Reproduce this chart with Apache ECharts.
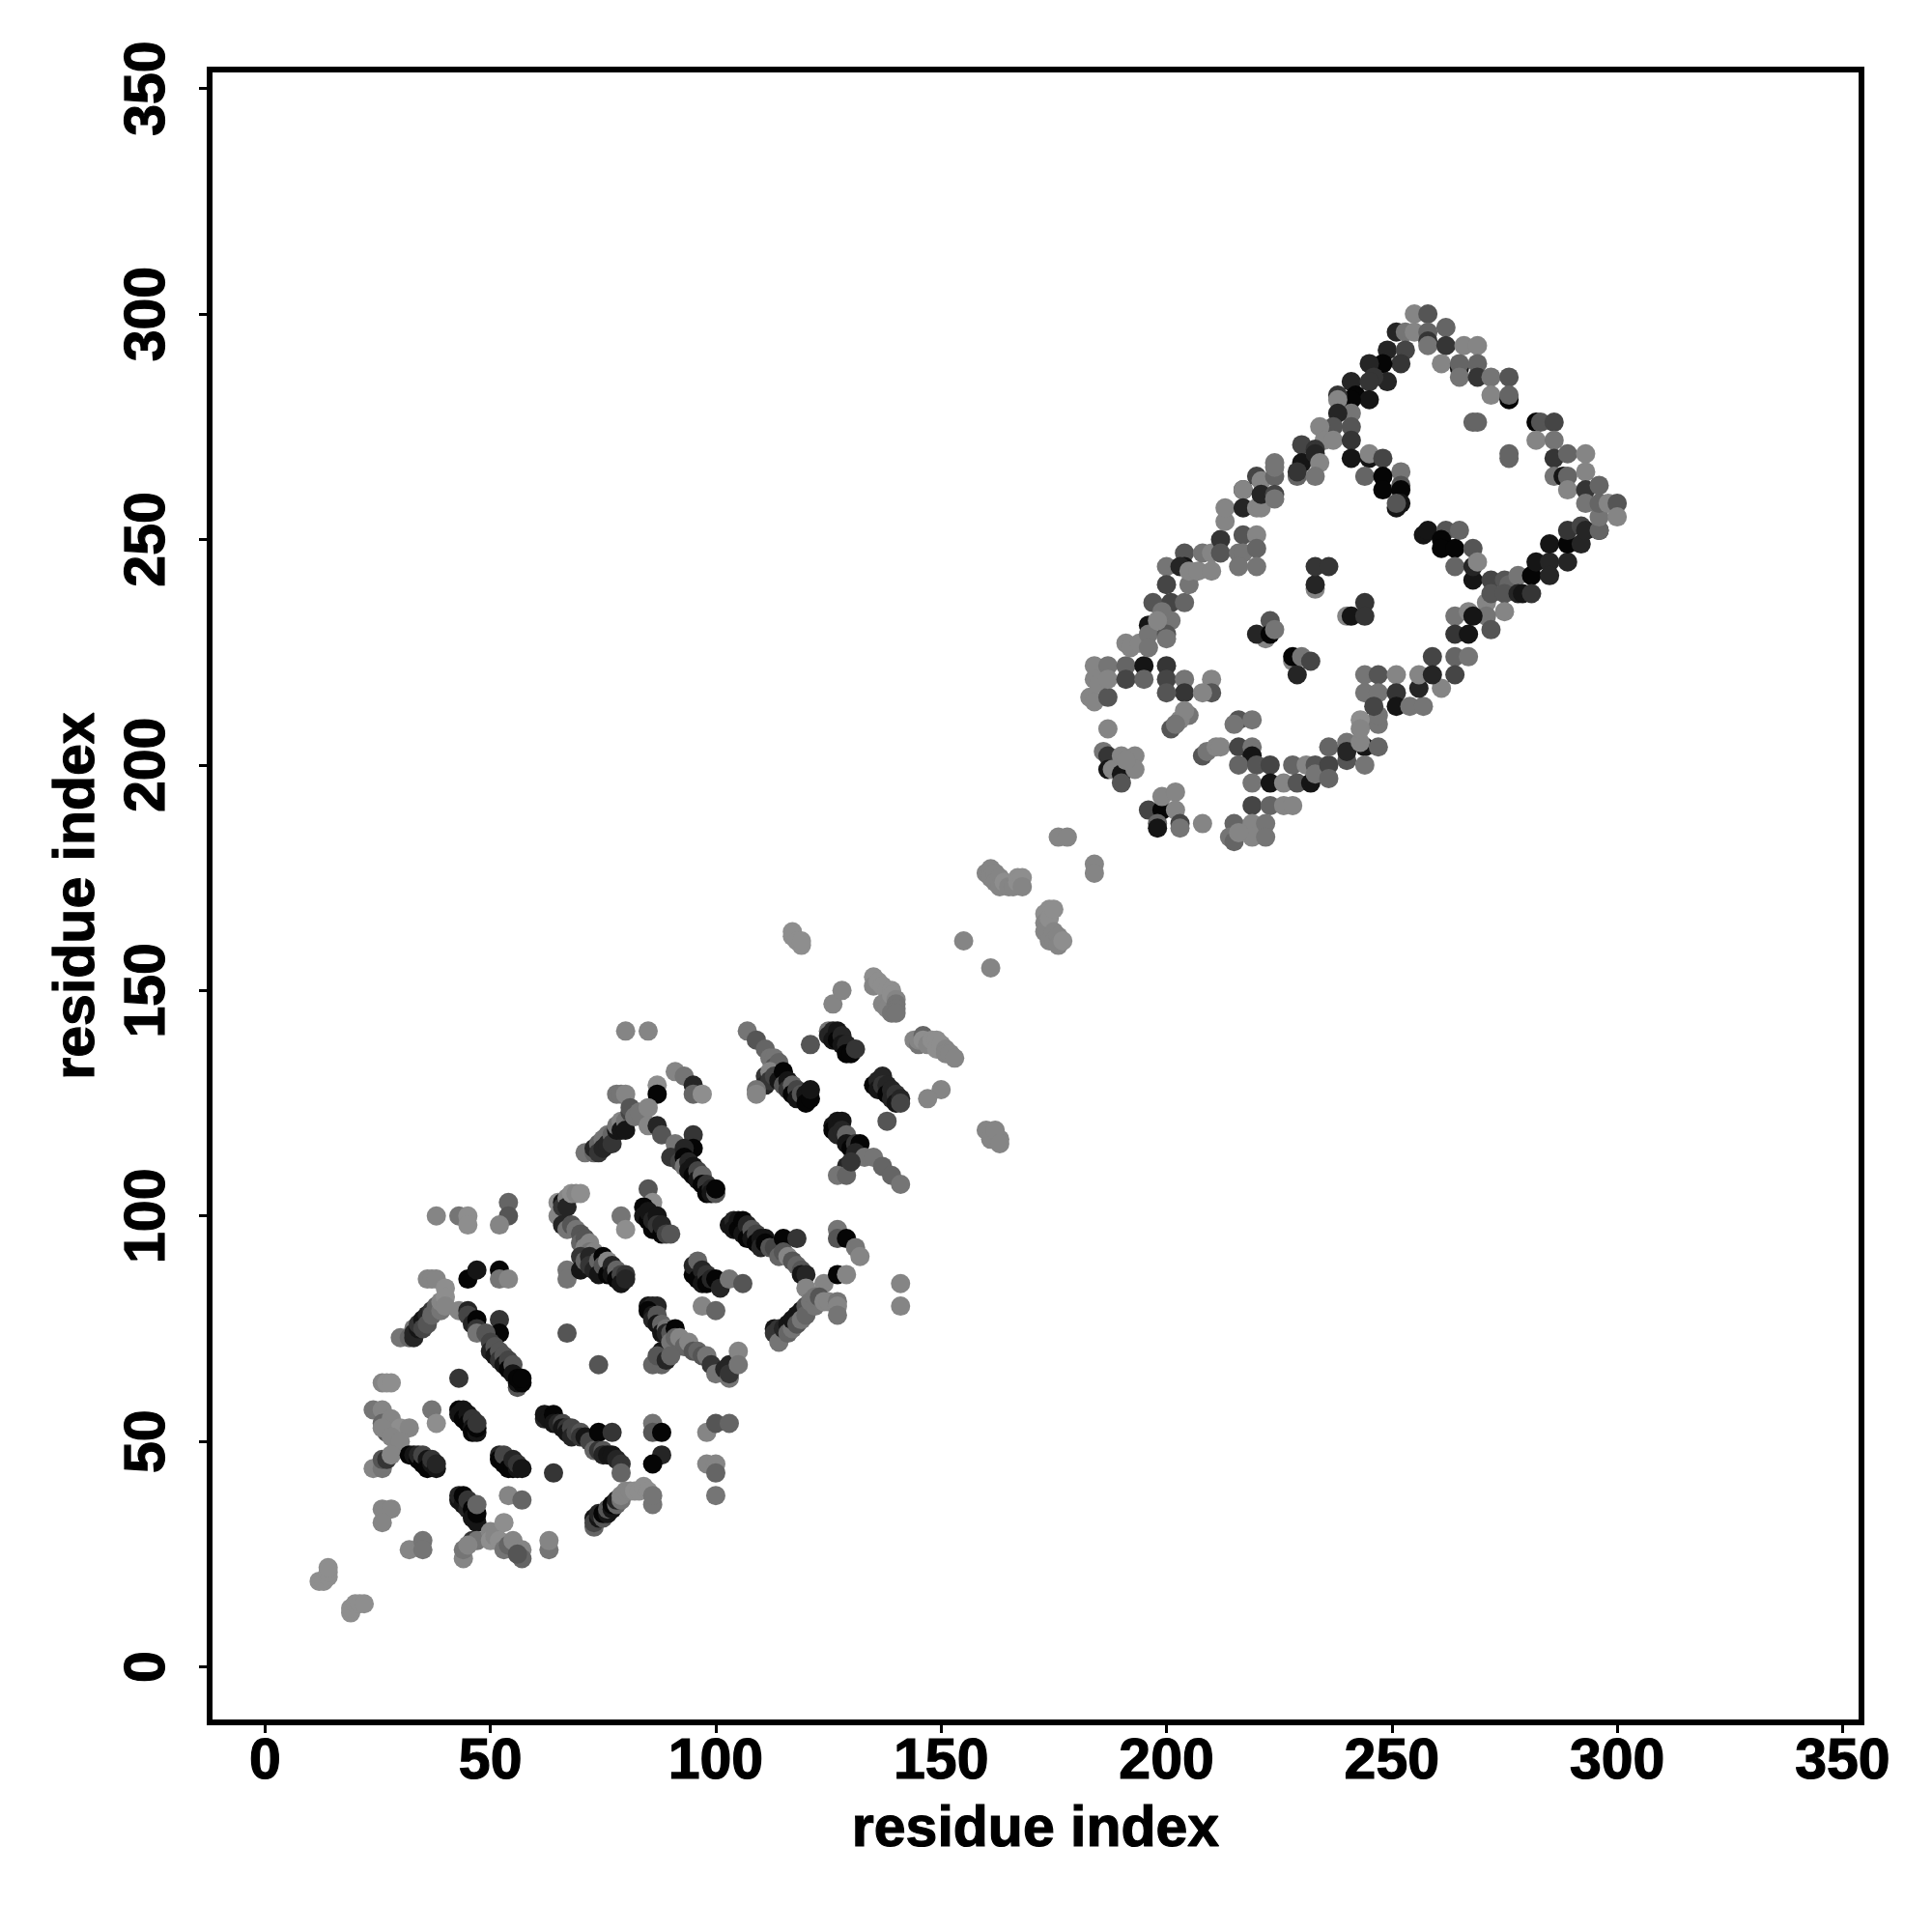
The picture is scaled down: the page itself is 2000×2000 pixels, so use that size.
<!DOCTYPE html>
<html><head><meta charset="utf-8">
<style>html,body{margin:0;padding:0;background:#fff}#c{width:2000px;height:2000px}</style>
<script src="https://cdn.jsdelivr.net/npm/echarts@6/dist/echarts.min.js"></script>
</head><body><div id="c"></div>
<script>
// each contact: [residue i, residue j, score level 0 (strong) .. 9 (weak)]
const tickValues = [0,50,100,150,200,250,300,350];
const xTitle = "residue index";
const yTitle = "residue index";
const terminusContacts = [[12,19,9],[13,19,9],[14,20,9],[14,21,9],[14,22,9],[19,12,9],[19,13,9],[20,14,9],[21,14,9],[22,14,9]];
const leftLightContacts = [[26,63,8],[27,63,9],[28,63,9],[24,57,7],[26,57,8],[26,54,6],[27,52,5],[28,55,8],[30,53,9],[32,53,8],[26,53,8],[28,51,8],[30,50,8],[24,44,8],[26,44,7],[26,46,5],[27,46,3],[28,47,8],
[26,35,8],[28,35,8],[26,32,8],[32,26,8],[35,28,7],[35,26,7],[38,100,8],[43,100,7],[45,100,9],[45,98,9],[54,103,6],[54,100,5],[52,98,8],[37,57,7],[38,54,9],[43,64,3],[67,74,5],[74,67,5]];
const arcContacts = [[30,73,7],[32,73,6],[33,73,2],[33,75,7],[33,74,2],[34,75,1],[34,76,3],[35,77,1],[35,75,4],[36,78,2],[36,76,5],[37,79,3],[37,78,6],[38,80,6],[39,79,7],[39,81,8],[36,86,8],[37,86,8],[38,86,8],[40,84,9],[40,82,9],[40,80,8],[43,79,8],[45,79,2],[45,78,4],[46,76,2],[47,77,0],[47,75,3],[47,74,7],[52,77,3],[52,74,0],[49,74,5],
[45,86,0],[47,88,1],[52,88,0],[52,86,7],[54,86,8]];
const strand1 = [[50,72,4],[50,70,2],[51,71,5],[51,69,1],[52,70,5],[52,68,3],[53,69,5],[53,67,1],[54,68,4],[54,66,0],[55,67,5],[55,65,1],[56,62,5],[56,63,1],[57,63,0],[56,64,0],[57,64,0]];
const strand2 = [[43,57,0],[43,56,1],[44,57,1],[44,55,0],[45,56,1],[45,54,0],[46,55,3],[46,53,1],[46,52,0],[47,52,1],[47,53,0],[47,54,3],[32,47,0],[33,47,1],[34,46,0],[34,47,2],[35,45,0],[35,47,4],[36,46,1],[36,44,0],[37,45,1],[37,46,3],[38,44,1],[38,45,2],
[52,47,2],[52,46,0],[53,45,0],[53,47,4],[54,44,0],[55,44,0],[55,46,2],[56,44,1],[56,45,3],[57,44,1],[64,43,3]];
const strand3 = [[62,55,2],[62,56,1],[63,55,1],[64,56,0],[64,54,1],[65,54,2],[66,54,4],[66,53,1],[67,53,3],[67,52,1],[68,53,4],[68,51,2],[69,52,4],[70,52,5],[70,51,3],[71,51,1],[72,50,4],[73,48,6],[74,52,0],[74,48,3],[75,48,5],[75,47,2],[76,47,1],[77,52,3],[77,47,1],[78,46,2],[79,45,3],[79,43,6],
[86,54,7],[86,52,5],[88,52,0],[88,47,2],[86,45,0],[98,52,8],[100,54,5],[103,54,6],[98,45,8],[100,45,8],[100,43,6],[100,38,7],[54,38,8],[57,37,6]];
const strand4 = [[43,37,1],[43,38,2],[44,36,1],[44,38,0],[45,35,2],[45,37,3],[46,35,0],[46,33,1],[47,32,1],[47,34,0],[47,36,6],[44,24,8],[44,26,7],[46,28,3],[47,28,7],[45,27,8],[50,30,8],[50,28,9],[51,29,8],[53,32,9],[52,28,9],[53,26,7],[54,27,6],[55,28,8],[57,26,8],[57,24,6],[56,25,5],[63,26,7],[63,28,8]];
const strand5 = [[73,33,1],[73,31,6],[73,32,4],[74,33,1],[74,34,2],[75,33,5],[75,34,0],[76,34,1],[76,35,5],[77,35,1],[77,36,0],[78,36,6],[78,37,2],[79,37,7],[79,38,8],[80,39,8],[81,39,8],[82,39,9],[83,39,9],[84,40,9],[85,39,9],[86,36,7],[86,38,7]];
const strand6 = [[65,103,9],[65,100,8],[66,103,1],[66,102,3],[66,98,2],[67,104,8],[67,102,2],[67,97,7],[67,88,7],[67,86,7],[68,105,9],[69,105,8],[70,105,9],[68,98,5],[69,97,7],[70,96,5],[70,94,6],[71,95,5],[71,93,8],[72,94,8],[72,92,7],[73,92,8],[73,90,8],[70,91,3],[70,88,1],[71,90,6],[72,91,2],[72,89,3],[73,88,2],[74,90,6],[74,87,1],[75,91,0],[75,89,5],[76,90,8],[76,87,0],[77,89,2],[77,87,1],[78,88,6],[78,86,0],[79,87,4],[79,85,1],[80,87,3],[80,86,2],[79,100,7],[80,97,9]];
const strand7 = [[85,106,5],[86,103,9],[84,102,0],[84,100,1],[85,99,0],[85,101,1],[86,97,0],[86,99,2],[87,100,1],[87,98,3],[88,96,0],[88,98,2],[89,96,4],[90,96,5],[95,87,0],[95,89,2],[96,90,6],[96,86,0],[97,88,2],[97,85,1],[98,87,3],[98,85,0],[99,86,2],[100,86,0],[101,84,2],[103,86,7],[106,85,5],[97,80,8],[100,79,6]];
const strand8 = [[85,80,1],[86,80,2],[87,80,2],[85,79,0],[86,78,1],[86,77,2],[87,78,5],[87,76,1],[88,76,6],[88,74,1],[88,70,1],[89,75,7],[89,74,2],[90,74,5],[90,72,7],[91,75,0],[91,73,6],[92,73,8],[93,71,6],[94,72,8],[95,70,5],[96,70,6],[97,69,5],[98,69,7],[86,67,6],[88,67,6],[87,69,5],[89,68,2],[90,69,6],[99,67,3],[100,65,7],[102,66,2],[103,67,2],[103,64,7],[103,65,3],[105,70,8],[105,67,7]];
const upperLeftContacts = [[117,162,9],[117,163,9],[118,161,9],[119,160,9],[119,161,9],[155,161,8],[161,155,8],[80,141,8],[85,141,8],[91,132,8],[93,131,7],[95,129,2],[95,127,6],[97,127,9],[87,129,9],[87,127,0],[78,127,7],[79,127,7],[80,127,8],
[71,114,7],[73,114,6],[73,115,2],[74,116,6],[74,114,3],[75,117,7],[75,115,2],[76,118,7],[76,116,2],[77,118,6],[77,116,3],[78,119,1],[78,120,7],[79,121,8],[79,119,1],[80,121,7],[80,119,1],[81,123,4],[81,124,5],[82,122,7],[83,123,7],[85,124,8],[85,120,8],[87,120,2],[88,118,5],[91,116,7],[95,118,3],[95,115,0]];
const strand9 = [[90,113,3],[92,112,4],[93,115,2],[93,113,0],[93,111,7],[94,112,2],[94,110,1],[95,111,1],[95,109,0],[96,110,4],[96,108,1],[97,109,6],[97,107,0],[98,107,3],[98,105,0],[99,106,2],[99,105,1],[100,105,5],[100,106,0]];
const strand10 = [[107,141,7],[109,139,5],[111,137,6],[112,135,7],[113,135,7],[113,133,5],[114,134,6],[111,131,3],[111,129,2],[112,132,8],[112,130,3],[109,128,7],[109,127,8],[113,131,4],[114,130,1],[115,132,0],[115,129,5],[116,130,1],[116,128,3],[117,129,6],[117,127,0],[118,128,4],[118,126,1],[119,127,5],[120,127,1],[120,125,0],[121,126,0],[121,128,1],[121,138,5],
[125,141,7],[125,140,2],[126,141,2],[126,139,1],[127,141,1],[127,139,0],[128,140,2],[128,138,1],[129,138,2],[129,136,0],[130,136,0],[131,137,3],[126,147,8],[128,150,8]];
const strand11 = [[135,153,9],[135,151,8],[136,152,9],[137,151,9],[138,150,9],[139,150,9],[137,147,8],[138,146,8],[139,149,9],[140,148,8],[140,147,7],[140,146,7],[139,145,7],[140,145,7],
[144,139,8],[145,138,7],[145,139,8],[146,140,6],[146,139,9],[147,138,8],[148,139,9],[149,139,9],[149,137,9],[150,138,9],[151,137,8],[151,136,8],[152,136,8],[153,135,8],[150,128,8],[147,126,8],[138,121,5],
[135,129,0],[136,130,2],[136,128,1],[137,131,2],[137,129,3],[138,129,2],[138,127,0],[139,128,2],[139,126,2],[140,127,3],[140,125,1],[141,126,2],[141,125,4]];
const strand12 = [[126,120,1],[126,119,0],[127,120,1],[127,121,1],[127,118,2],[128,121,1],[128,119,2],[129,118,6],[129,116,1],[130,115,0],[131,116,3],[132,116,0],[131,114,2],[133,113,7],[135,113,7],[137,111,6],[139,109,6],[141,107,7],[129,111,2],[127,109,7],[129,109,6],[130,112,3]];
const strand13 = [[103,98,1],[104,99,2],[104,97,1],[105,99,1],[105,97,0],[106,99,0],[106,96,1],[107,98,2],[107,95,0],[108,97,5],[108,95,1],[109,96,4],[109,94,0],[110,95,1],[110,93,2],[111,95,1],[111,94,0],[112,93,5],[113,93,4],[114,91,6],[115,95,0],[115,92,5],[116,91,8],[118,95,3],[117,90,5],[118,89,6],[119,88,5],[119,87,1],[120,87,2],[120,84,8],[124,85,8],[127,97,7],[127,95,5],[129,95,0],[131,93,7],[132,91,8],[127,87,0],[129,87,8],[141,85,8],[141,80,8]];
const strand14 = [[113,75,1],[113,74,3],[114,75,3],[114,72,7],[115,75,2],[116,76,1],[116,74,6],[117,75,7],[117,77,1],[118,78,1],[118,76,5],[119,79,1],[119,77,7],[120,80,5],[120,78,6],[121,81,7],[122,80,7],[122,82,7],[123,82,5],[124,81,8],[125,81,8],[127,81,7],[127,80,8],[127,78,7]];
const linkerContacts = [[176,184,8],[178,184,8],[184,178,8],[184,176,8],[160,176,8],[161,177,8],[161,175,8],[162,176,8],[162,174,8],[163,175,8],[163,173,8],[164,174,9],[165,173,8],[166,173,8],[167,175,9],[167,174,9],[168,175,9],[168,173,8],
[173,167,9],[173,165,8],[173,163,8],[174,168,9],[174,166,9],[174,161,8],[175,168,9],[175,163,8],[175,161,8],[176,162,8],[176,160,8],[177,161,9],[161,118,8],[163,117,8],[160,119,8],[161,117,8],[162,119,8],[163,116,8]];
const ringLeft = [[183,215,8],[184,222,8],[184,219,8],[184,214,8],[185,218,8],[187,215,5],[187,222,7],[187,219,8],[191,222,6],[191,219,4],[187,208,8],[191,227,8],[192,226,8],[194,227,8],[195,222,1],[195,219,6],[197,236,5],[201,236,4],[204,236,6],[196,231,1],[196,229,7],[196,226,7],[201,232,7],[200,229,5],[200,228,7],[199,234,7],[198,232,8]];
const ringUpperLeft = [[200,244,7],[204,247,5],[200,240,4],[205,240,7],[204,244,1],[203,244,2],[205,243,8],[207,243,8],[208,247,7],[210,247,8],[210,243,8],[212,250,3],[212,247,5],[213,254,8],[213,257,8],[217,251,5],[216,247,7],[217,247,7],[220,251,8],[220,248,6],[216,244,7],[220,244,7],[217,261,1],[217,261,8],[217,257,2],[220,257,8],[221,257,8],[220,264,4],[221,263,8],[221,260,2],[224,267,7],[224,264,6],[224,260,4],[224,259,7]];
const ringInnerLeft = [[200,222,3],[200,219,4],[204,219,7],[210,219,8],[210,216,5],[204,216,3],[200,216,5],[208,216,8],[205,211,7],[203,210,8],[201,208,5],[204,212,8],[202,209,7],[216,210,5],[219,210,7],[215,209,7],[208,202,5],[209,203,7],[211,204,8],[212,204,8],[216,204,4],[219,204,7],[219,202,1],[216,200,6],[220,200,5],[219,196,7],[223,200,4],[223,196,1]];
const ringLowerLeft = [[186,203,7],[187,202,3],[187,199,1],[188,199,8],[190,202,8],[193,202,8],[190,198,1],[193,199,8],[190,196,5],[191,201,8],[196,190,4],[199,190,0],[199,193,8],[202,194,8],[202,190,8],[198,187,6],[198,186,1],[203,187,4],[203,186,7],[208,187,8],[215,187,6],[214,184,7],[215,183,6],[219,191,4],[223,191,6],[219,187,8],[222,187,7],[219,184,8],[222,184,7],[216,185,8],[226,191,8],[228,191,8]];
const ringBottom = [[226,196,8],[228,200,6],[229,196,5],[232,196,1],[231,200,8],[233,200,5],[233,198,7],[236,200,4],[236,197,6],[236,204,6],[240,205,7],[240,201,5],[240,203,2],[244,204,1],[243,205,8],[247,204,6],[244,200,7],[243,210,9],[243,208,8],[247,209,7],[247,211,7],[244,220,7],[247,220,5],[251,220,8],[244,216,7],[247,216,7],[251,216,3],[246,213,4],[251,213,1],[254,213,7],[257,213,7],[256,217,2],[261,217,8],[256,220,8],[259,224,4],[259,220,2],[264,224,6],[267,224,7],[264,220,4]];
const ringRightLower = [[268,241,1],[272,241,4],[275,241,5],[276,240,6],[271,236,8],[272,238,5],[275,238,5],[275,234,8],[271,233,7],[264,233,7],[267,234,8],[268,233,1],[264,229,3],[267,229,1],[272,230,5],[278,242,7],[278,238,2],[279,238,1],[281,242,0],[281,238,3],[282,245,1],[285,245,2],[285,242,2],[289,245,2],[285,249,1],[289,249,0],[292,249,2],[289,252,3],[292,253,4],[293,252,2],[296,252,1],[296,252,6],[296,255,7]];
const ringRightUpper = [[282,276,0],[283,276,5],[286,276,4],[282,272,8],[286,272,7],[286,268,3],[289,269,6],[293,269,8],[286,264,7],[288,264,1],[289,264,6],[293,265,8],[289,261,8],[293,261,3],[296,262,6],[293,258,7],[296,258,6],[298,258,8],[300,258,5],[300,255,8],[268,276,6],[269,276,6],[276,269,6],[276,268,6]];
const ringTop = [[255,300,8],[258,300,5],[251,296,2],[253,296,7],[255,296,8],[258,296,6],[258,294,3],[258,293,7],[262,297,6],[262,293,3],[266,293,8],[269,293,8],[261,289,8],[265,288,1],[265,289,6],[269,289,6],[265,286,7],[269,286,3],[272,286,7],[276,286,5],[272,282,8],[276,281,0],[276,282,6]];
const ringDiagonal = [[249,292,2],[253,292,4],[252,289,3],[248,289,0],[245,289,2],[249,285,2],[246,286,3],[241,285,2],[245,285,3],[242,282,0],[245,281,1],[241,281,0],[238,282,3],[238,281,8],[241,278,7],[238,278,2],[241,275,5],[237,275,5],[234,275,8],[235,272,8],[237,272,8],[241,272,3],[241,268,1],[245,268,1],[245,269,8],[248,268,4],[252,265,7],[244,264,6],[248,264,0],[248,261,0],[252,262,5],[252,261,0],[252,258,1],[251,257,1],[251,258,5],
[230,271,4],[233,270,3],[230,267,1],[233,269,2],[234,267,8],[229,264,6],[229,265,3],[233,264,7],[224,266,7],[257,251,1],[258,252,1],[262,252,5],[261,250,0],[265,252,6],[261,248,0],[264,248,0],[268,248,5],[264,244,6],[268,244,2],[269,245,8]];
const centerContacts = [[233,239,8],[233,240,2],[233,244,3],[236,244,3],[240,233,8],[241,233,1],[244,236,3],[244,233,3],[223,232,5],[222,228,8],[220,229,2],[223,229,0],[224,230,7],[228,223,8],[228,224,0],[229,220,2],[230,224,7],[232,223,4]];

const contacts = [].concat(terminusContacts,leftLightContacts,arcContacts,strand1,strand2,strand3,strand4,strand5,strand6,strand7,strand8,upperLeftContacts,strand9,strand10,strand11,strand12,strand13,strand14,linkerContacts,ringLeft,ringUpperLeft,ringInnerLeft,ringLowerLeft,ringBottom,ringRightLower,ringRightUpper,ringTop,ringDiagonal,centerContacts);

const font = "'Liberation Sans', Arial, sans-serif";
const shade = l => { const g = Math.min(142, 5 + 16 * l); return `rgb(${g},${g},${g})`; };
const axisCommon = (name, gap, rotate, margin) => ({
  type: 'value', min: -12.3, max: 354.2, name, nameLocation: 'middle', nameGap: gap,
  nameTextStyle: {fontFamily: font, fontWeight: 'bold', fontSize: 59, color: '#000', textBorderColor: '#000', textBorderWidth: 1.2},
  axisLine: {show: false, onZero: false}, splitLine: {show: false},
  axisTick: {show: true, length: 11, inside: false, lineStyle: {color: '#000', width: 3}, customValues: tickValues},
  axisLabel: {show: true, rotate, margin, fontFamily: font, fontWeight: 'bold', fontSize: 59, color: '#000', textBorderColor: '#000', textBorderWidth: 1.2, customValues: tickValues, showMinLabel: true, showMaxLabel: true, hideOverlap: false}
});
const chart = echarts.init(document.getElementById('c'), null, {renderer: 'canvas'});
chart.setOption({
  animation: false, backgroundColor: '#fff',
  grid: {show: true, left: 217, right: 73, top: 72, bottom: 217, borderColor: '#000', borderWidth: 6, backgroundColor: 'transparent', z: 5},
  xAxis: axisCommon(xTitle, 82, 0, 12),
  yAxis: axisCommon(yTitle, 107, 90, 34),
  series: [{type: 'scatter', symbol: 'circle', symbolSize: 20, clip: true,
    data: contacts.map(c => ({value: [c[0], c[1]], itemStyle: {color: shade(c[2]), opacity: 1}})),
    large: false, progressive: 0, emphasis: {disabled: true}}]
});
</script></body></html>
